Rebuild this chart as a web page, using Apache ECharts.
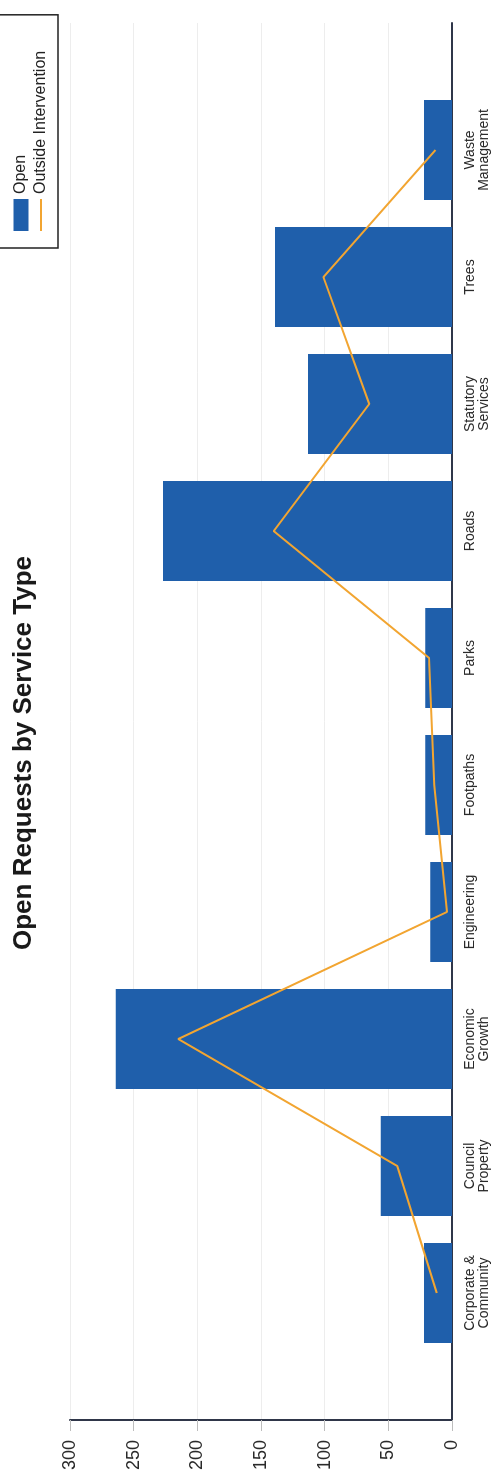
<!DOCTYPE html>
<html>
<head>
<meta charset="utf-8">
<script src="https://cdn.jsdelivr.net/npm/echarts@6/dist/echarts.min.js"></script>
<style>
html, body { margin: 0; padding: 0; width: 501px; height: 1481px; overflow: hidden; background: #fff; }
#wrap { position: absolute; left: 0; top: 0; width: 1481px; height: 501px;
        transform-origin: 0 0; transform: translateY(1481px) rotate(-90deg); }
</style>
</head>
<body>
<div id="wrap"></div>
<script>
// Data
const titleText = 'Open Requests by Service Type';
const categories = ['Corporate &\nCommunity', 'Council\nProperty', 'Economic\nGrowth', 'Engineering',
  'Footpaths', 'Parks', 'Roads', 'Statutory\nServices', 'Trees', 'Waste\nManagement'];
const openValues = [22, 56, 264, 17, 21, 21, 227, 113, 139, 22];
const outsideValues = [12, 43, 215, 4, 14, 18, 140, 65, 101, 13];
const seriesNames = ['Open', 'Outside Intervention'];
const valueTicks = { min: 0, max: 300, interval: 50 };

// axis padded with an empty slot on both ends (the reference axis extends one step beyond the first/last category)
const axisCats = [''].concat(categories, ['']);
const padOpen = [null].concat(openValues, [null]);
const padOutside = [null].concat(outsideValues, [null]);

const FONT = '"Liberation Sans", Arial, sans-serif';
const chart = echarts.init(document.getElementById('wrap'), null, { renderer: 'canvas' });
chart.setOption({
  backgroundColor: '#ffffff',
  animation: false,
  title: {
    text: titleText,
    left: 531, top: 11, padding: 0,
    textStyle: { fontFamily: FONT, fontSize: 26, fontWeight: 'bold', color: '#1a1a1a' }
  },
  legend: {
    orient: 'vertical',
    left: 1233, top: -2,
    padding: [15, 36, 9, 16],
    itemWidth: 32, itemHeight: 15, itemGap: 4,
    borderColor: '#222', borderWidth: 1.5,
    textStyle: { fontFamily: FONT, fontSize: 16, color: '#222' },
    data: [
      { name: seriesNames[0], icon: 'rect' },
      { name: seriesNames[1], itemStyle: { opacity: 0 } }
    ]
  },
  grid: { left: 61, right: 23, top: 70, bottom: 49, containLabel: false },
  xAxis: {
    type: 'category',
    data: axisCats,
    boundaryGap: false,
    axisLine: { lineStyle: { color: '#2f3649', width: 2 } },
    axisTick: { show: false },
    axisLabel: { interval: 0, margin: 11, fontFamily: FONT, fontSize: 14, lineHeight: 14, color: '#2a2a2a' },
    splitLine: { show: false }
  },
  yAxis: {
    type: 'value',
    min: valueTicks.min, max: valueTicks.max, interval: valueTicks.interval,
    axisLine: { show: true, lineStyle: { color: '#2f3649', width: 2 } },
    axisTick: { show: true, length: 11, lineStyle: { color: '#bdbdbd', width: 1 } },
    axisLabel: { margin: 20, fontFamily: FONT, fontSize: 18, color: '#2a2a2a' },
    splitLine: { show: true, lineStyle: { color: '#ededed', width: 1 } }
  },
  series: [
    {
      name: seriesNames[0], type: 'bar', data: padOpen, barWidth: 100,
      itemStyle: { color: '#1f5fab' }
    },
    {
      name: seriesNames[1], type: 'line', data: padOutside,
      symbol: 'none', showSymbol: false,
      lineStyle: { color: '#f2a531', width: 2 },
      itemStyle: { color: '#f2a531' }
    }
  ]
});
</script>
</body>
</html>
